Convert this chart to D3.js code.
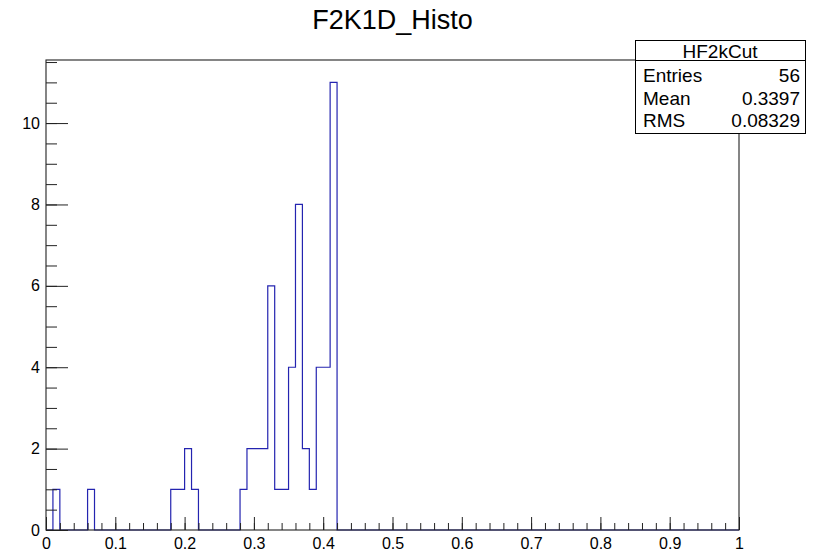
<!DOCTYPE html>
<html>
<head>
<meta charset="utf-8">
<script src="https://cdn.jsdelivr.net/npm/d3@7"></script>
<style>
  body { margin: 0; background: #fff; }
  text { font-family: "Liberation Sans", Arial, sans-serif; fill: #000; }
</style>
</head>
<body>
<script>
// histogram: 100 bins on [0,1], only the filled bins listed
const nBins = 100;
const xMin = 0, xMax = 1;
const binLow = [0.01, 0.06, 0.18, 0.19, 0.20, 0.21, 0.28, 0.29, 0.30, 0.31,
                0.32, 0.33, 0.34, 0.35, 0.36, 0.37, 0.38, 0.39, 0.40, 0.41];
const binCount = [1, 1, 1, 1, 2, 1, 1, 2, 2, 2,
                  6, 1, 1, 4, 8, 2, 1, 4, 4, 11];

const xMajor = [0, 0.1, 0.2, 0.3, 0.4, 0.5, 0.6, 0.7, 0.8, 0.9, 1];
const yMajor = [0, 2, 4, 6, 8, 10];

const title = "F2K1D_Histo";
const statsName = "HF2kCut";
const statsLabels = ["Entries", "Mean", "RMS"];
const statsValues = ["56", "0.3397", "0.08329"];

const w = 816, h = 552;
const margin = ({top: 60, right: 77, bottom: 22, left: 46});

const svg = d3.select("body")
    .append("svg")
    .attr("width", w)
    .attr("height", h);

// full bin table
let counts = new Array(nBins).fill(0);
binLow.forEach((b, i) => { counts[Math.round((b - xMin) / (xMax - xMin) * nBins)] = binCount[i]; });
let bins = counts.map((c, i) => ({x: xMin + i * (xMax - xMin) / nBins, c: c}));
bins.push({x: xMax, c: counts[nBins - 1]});

let yMax = d3.max(counts) * 1.05;

let x = d3.scaleLinear()
    .domain([xMin, xMax])
    .range([margin.left, w - margin.right]);

let y = d3.scaleLinear()
    .domain([0, yMax])
    .range([h - margin.bottom, margin.top]);

let xMinor = d3.range(0, 50.5).map(i => i * 0.02);
let yMinor = d3.range(0, Math.floor(yMax * 2) + 1).map(i => i * 0.5);

// histogram outline
let line = d3.line()
    .x(d => x(d.x))
    .y(d => y(d.c))
    .curve(d3.curveStepAfter);

svg.append("path")
    .datum(bins)
    .attr("fill", "none")
    .attr("stroke", "#2424b0")
    .attr("stroke-width", 1.2)
    .attr("d", line);

// minor ticks
let gxm = svg.append("g")
    .attr("transform", `translate(0,${h - margin.bottom})`)
    .call(d3.axisBottom(x).tickValues(xMinor).tickSize(-7).tickSizeOuter(0).tickFormat(""));
let gym = svg.append("g")
    .attr("transform", `translate(${margin.left},0)`)
    .call(d3.axisLeft(y).tickValues(yMinor).tickSize(-11).tickSizeOuter(0).tickFormat(""));

// major ticks + labels
let gx = svg.append("g")
    .attr("transform", `translate(0,${h - margin.bottom})`)
    .call(d3.axisBottom(x).tickValues(xMajor).tickSize(-13).tickSizeOuter(0)
        .tickPadding(8).tickFormat(d3.format("~g")));
let gy = svg.append("g")
    .attr("transform", `translate(${margin.left},0)`)
    .call(d3.axisLeft(y).tickValues(yMajor).tickSize(-22).tickSizeOuter(0)
        .tickPadding(6).tickFormat(d3.format("d")));

[gxm, gym, gx, gy].forEach(g => {
    g.select(".domain").remove();
    g.selectAll("line").attr("stroke", "#222");
});
[gx, gy].forEach(g => g.selectAll("text")
    .attr("font-size", 16)
    .attr("font-family", "Liberation Sans, Arial, sans-serif")
    .attr("fill", "#000"));

// frame
svg.append("rect")
    .attr("x", x(xMin))
    .attr("y", y(yMax))
    .attr("width", x(xMax) - x(xMin))
    .attr("height", y(0) - y(yMax))
    .attr("fill", "none")
    .attr("stroke", "#222")
    .attr("stroke-width", 1.1);

// title
svg.append("text")
    .attr("x", (x(xMin) + x(xMax)) / 2)
    .attr("y", 29)
    .attr("text-anchor", "middle")
    .attr("font-size", 27)
    .text(title);

// stats box
const box = {x0: 635, x1: 805, y0: 40, yh: 60, y1: 133};
let stats = svg.append("g");
stats.append("rect")
    .attr("x", box.x0 + 0.5)
    .attr("y", box.y0 + 0.5)
    .attr("width", box.x1 - box.x0)
    .attr("height", box.y1 - box.y0)
    .attr("fill", "#fff")
    .attr("stroke", "#000");
stats.append("line")
    .attr("x1", box.x0).attr("x2", box.x1)
    .attr("y1", box.yh + 0.5).attr("y2", box.yh + 0.5)
    .attr("stroke", "#000");
stats.append("text")
    .attr("x", (box.x0 + box.x1) / 2)
    .attr("y", 57.5)
    .attr("text-anchor", "middle")
    .attr("font-size", 19)
    .text(statsName);
let rowY = [82, 104.5, 127];
stats.selectAll(".slabel")
    .data(statsLabels)
    .enter().append("text")
    .attr("x", 643)
    .attr("y", (d, i) => rowY[i])
    .attr("font-size", 19)
    .text(d => d);
stats.selectAll(".svalue")
    .data(statsValues)
    .enter().append("text")
    .attr("x", 800)
    .attr("y", (d, i) => rowY[i])
    .attr("text-anchor", "end")
    .attr("font-size", 19)
    .text(d => d);
</script>
</body>
</html>
